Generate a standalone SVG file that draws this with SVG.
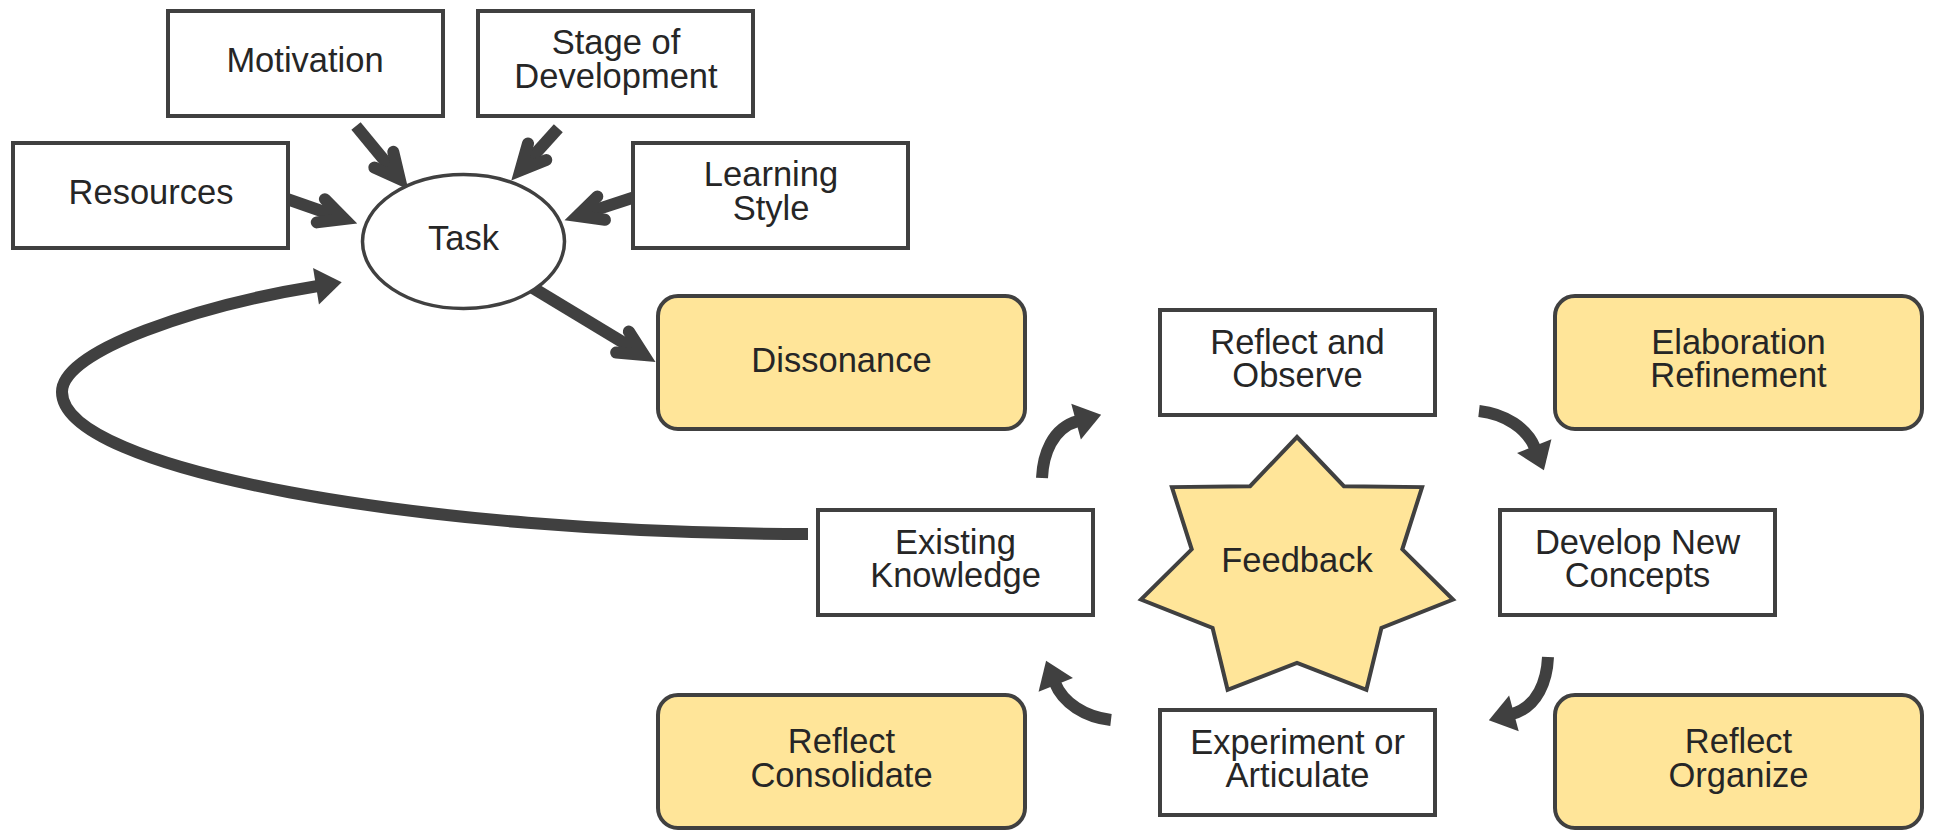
<svg xmlns="http://www.w3.org/2000/svg" width="1934" height="831" viewBox="0 0 1934 831">
<style>
.box{fill:#ffffff;stroke:#404040;stroke-width:4}
.yel{fill:#FFE599;stroke:#404040;stroke-width:4}
.ell{fill:#ffffff;stroke:#404040;stroke-width:3.5}
.t{font-family:"Liberation Sans",Arial,sans-serif;font-size:34.5px;fill:#262626;text-anchor:middle}
.shaft{fill:none;stroke:#404040;stroke-width:12;stroke-linecap:butt}
</style>
<defs>
<marker id="vhead" markerUnits="userSpaceOnUse" orient="auto" refX="0" refY="0" markerWidth="80" markerHeight="80" overflow="visible">
<path d="M-25,-12.3 L0,0 L-25,12.3" fill="none" stroke="#404040" stroke-width="12" stroke-linecap="round" stroke-linejoin="miter"/>
</marker>
<marker id="tri" markerUnits="userSpaceOnUse" orient="auto" refX="2" refY="0" markerWidth="80" markerHeight="80" overflow="visible">
<path d="M0,-18.5 L26,0 L0,18.5 Z" fill="#404040"/>
</marker>
</defs>
<g id="connectors">
<line class="shaft" x1="356" y1="126" x2="399.7" y2="179" marker-end="url(#vhead)"/>
<line class="shaft" x1="287" y1="199" x2="344.4" y2="219" marker-end="url(#vhead)"/>
<line class="shaft" x1="558.3" y1="128.3" x2="520.4" y2="170.3" marker-end="url(#vhead)"/>
<line class="shaft" x1="635" y1="197" x2="577.4" y2="215.9" marker-end="url(#vhead)"/>
<line class="shaft" x1="533" y1="288" x2="643.9" y2="355" marker-end="url(#vhead)"/>
<path class="shaft" d="M808,534 C420,534 62,470 62,392 C62,350 200,305 318,286" marker-end="url(#tri)"/>
<path class="shaft" d="M1042,478 C1043,455 1052,428 1078,421" marker-end="url(#tri)"/>
<path class="shaft" d="M1479,411 C1505,414 1527,428 1535,448" marker-end="url(#tri)"/>
<path class="shaft" d="M1548,657 C1547,680 1538,707 1512,714" marker-end="url(#tri)"/>
<path class="shaft" d="M1111,720 C1085,717 1063,703 1055,683" marker-end="url(#tri)"/>
</g>
<g id="motivation"><rect class="box" x="168" y="11" width="275" height="105"/><text class="t" x="305" y="72">Motivation</text></g>
<g id="stage"><rect class="box" x="478" y="11" width="275" height="105"/><text class="t" x="616" y="54">Stage of<tspan x="616" dy="34">Development</tspan></text></g>
<g id="resources"><rect class="box" x="13" y="143" width="275" height="105"/><text class="t" x="151" y="204">Resources</text></g>
<g id="learning"><rect class="box" x="633" y="143" width="275" height="105"/><text class="t" x="771" y="186">Learning<tspan x="771" dy="34">Style</tspan></text></g>
<g id="task"><ellipse class="ell" cx="463.5" cy="241.5" rx="101" ry="67"/><text class="t" x="463.5" y="250">Task</text></g>
<g id="dissonance"><rect class="yel" x="658" y="296" width="367" height="133" rx="20" ry="20"/><text class="t" x="841.5" y="372">Dissonance</text></g>
<g id="reflect-observe"><rect class="box" x="1160" y="310" width="275" height="105"/><text class="t" x="1297.5" y="354">Reflect and<tspan x="1297.5" dy="33">Observe</tspan></text></g>
<g id="elaboration"><rect class="yel" x="1555" y="296" width="367" height="133" rx="20" ry="20"/><text class="t" x="1738.5" y="354">Elaboration<tspan x="1738.5" dy="33">Refinement</tspan></text></g>
<g id="existing"><rect class="box" x="818" y="510" width="275" height="105"/><text class="t" x="955.5" y="554">Existing<tspan x="955.5" dy="33">Knowledge</tspan></text></g>
<g id="feedback"><polygon class="yel" points="1297,437 1343.9,486.2 1422.1,487.1 1402.3,549.3 1453,599.6 1381.4,628 1366.4,689.8 1297,663 1227.6,689.8 1212.6,628 1141,599.6 1191.7,549.3 1171.9,487.1 1250.1,486.2"/><text class="t" x="1297" y="572">Feedback</text></g>
<g id="develop"><rect class="box" x="1500" y="510" width="275" height="105"/><text class="t" x="1637.5" y="554">Develop New<tspan x="1637.5" dy="33">Concepts</tspan></text></g>
<g id="experiment"><rect class="box" x="1160" y="710" width="275" height="105"/><text class="t" x="1297.5" y="754">Experiment or<tspan x="1297.5" dy="33">Articulate</tspan></text></g>
<g id="consolidate"><rect class="yel" x="658" y="695" width="367" height="133" rx="20" ry="20"/><text class="t" x="841.5" y="753">Reflect<tspan x="841.5" dy="34">Consolidate</tspan></text></g>
<g id="organize"><rect class="yel" x="1555" y="695" width="367" height="133" rx="20" ry="20"/><text class="t" x="1738.5" y="753">Reflect<tspan x="1738.5" dy="34">Organize</tspan></text></g>
</svg>
